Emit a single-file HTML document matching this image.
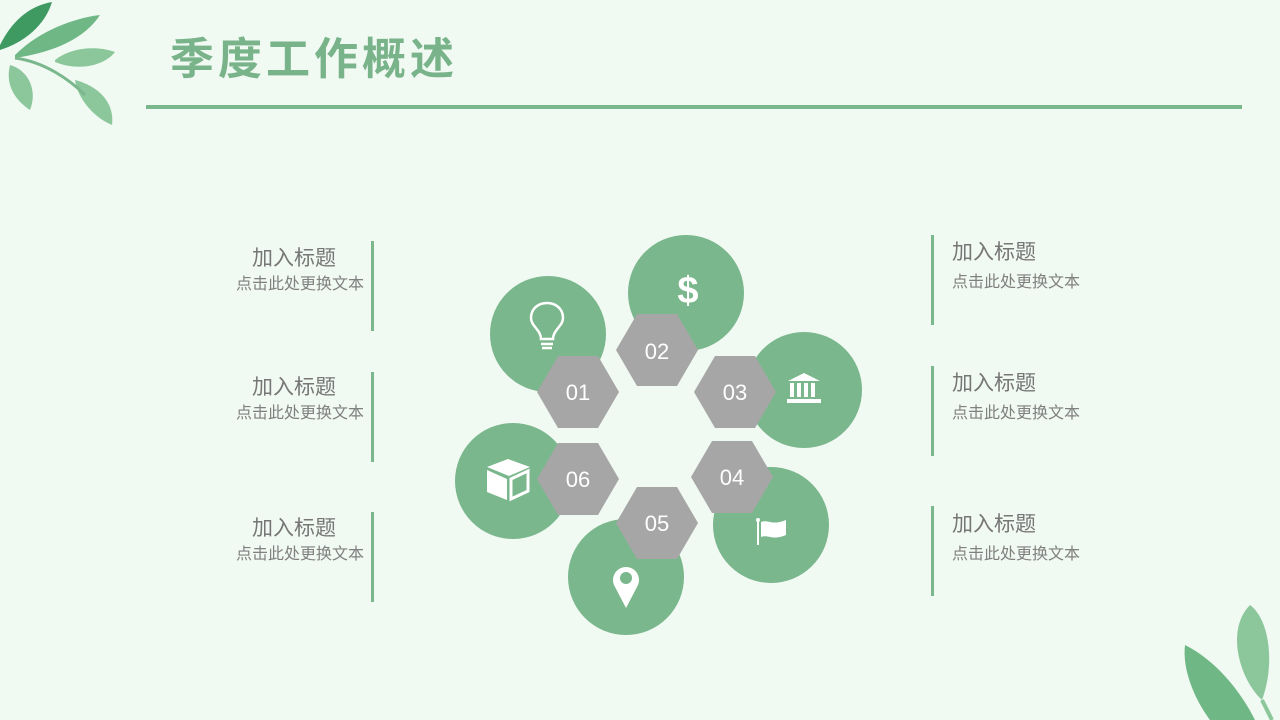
<!DOCTYPE html>
<html><head><meta charset="utf-8"><style>
html,body{margin:0;padding:0}
body{width:1280px;height:720px;background:#f0f9f2;overflow:hidden;position:relative;font-family:"Liberation Sans","Noto Sans CJK SC",sans-serif}
.t{position:absolute;font-size:21px;color:#767676;line-height:1}
.s{position:absolute;font-size:16px;color:#808080;line-height:1}
.bar{position:absolute;width:3px;height:90px;background:#7ab78c}
.l{text-align:right}
</style></head><body>
<svg width="1280" height="720" style="position:absolute;left:0;top:0">
<g>
<path d="M0 45 C15 15 35 5 52 2 C45 25 25 42 0 50Z" fill="#3f9a62"/>
<path d="M15 55 C40 30 75 18 100 15 C85 38 55 52 15 58Z" fill="#6fb885"/>
<path d="M55 60 C70 48 95 45 115 52 C105 65 80 72 55 62Z" fill="#8cc79c"/>
<path d="M10 65 C28 70 38 90 30 110 C15 100 5 85 10 65Z" fill="#8cc79c"/>
<path d="M75 80 C95 85 115 100 112 125 C95 118 78 100 75 80Z" fill="#8cc79c"/>
<path d="M15 58 C45 62 70 80 85 95" stroke="#7ab78c" stroke-width="3" fill="none"/>
</g>
<path d="M1250 605 C1270 620 1275 665 1262 700 C1240 680 1225 630 1250 605Z" fill="#8cc79c"/>
<path d="M1185 645 C1215 660 1240 690 1255 720 L1210 720 C1195 700 1182 670 1185 645Z" fill="#6fb885"/>
<path d="M1262 700 L1272 720" stroke="#8cc79c" stroke-width="4"/>
<rect x="146" y="105" width="1096" height="4" fill="#7ab78c"/>
<g fill="#7ab78c">
<circle cx="686" cy="293" r="58"/>
<circle cx="548" cy="334" r="58"/>
<circle cx="804" cy="390" r="58"/>
<circle cx="513" cy="481" r="58"/>
<circle cx="771" cy="525" r="58"/>
<circle cx="626" cy="577" r="58"/>
</g>
<g fill="#a6a6a6">
<polygon points="616,350 637,314 677,314 698,350 677,386 637,386"/>
<polygon points="537,392 558,356 598,356 619,392 598,428 558,428"/>
<polygon points="694,392 715,356 755,356 776,392 755,428 715,428"/>
<polygon points="537,479 558,443 598,443 619,479 598,515 558,515"/>
<polygon points="691,477 712,441 752,441 773,477 752,513 712,513"/>
<polygon points="616,523 637,487 677,487 698,523 677,559 637,559"/>
</g>
<g fill="#fff" font-family="Liberation Sans,sans-serif" font-size="22" text-anchor="middle">
<text x="657" y="359">02</text>
<text x="578" y="400">01</text>
<text x="735" y="400">03</text>
<text x="578" y="487">06</text>
<text x="732" y="485">04</text>
<text x="657" y="531">05</text>
<text x="688" y="303" font-size="38" font-weight="bold">$</text>
</g>
<g stroke="#fff" stroke-width="2.5" fill="none">
<path d="M541 339 C541 330 531 326 531 318 C531 308 539 303 547 303 C555 303 563 308 563 318 C563 326 553 330 553 339Z"/>
<path d="M541 344 H553 M542 348 H552"/>
</g>
<g fill="#fff">
<polygon points="788,381 804,373 820,381"/>
<rect x="790" y="383" width="4" height="14"/><rect x="797" y="383" width="4" height="14"/><rect x="804" y="383" width="4" height="14"/><rect x="811" y="383" width="4" height="14"/>
<rect x="787" y="399" width="34" height="4"/>
</g>
<g fill="#fff"><polygon points="487,467 508,459 530,467 509,476"/><polygon points="487,470 507,479 507,500 487,492"/></g>
<polygon points="511,479 528,471 528,491 511,499" fill="none" stroke="#fff" stroke-width="3"/>
<rect x="757" y="520" width="2" height="25" fill="#fff"/><circle cx="758" cy="520" r="2" fill="#fff"/>
<path d="M761 522 C768 519 772 526 786 520 V535 C772 541 768 534 761 537Z" fill="#fff"/>
<path d="M626 608 L614 585 A13 13 0 1 1 638 585Z" fill="#fff"/><circle cx="626" cy="578" r="6" fill="#7ab78c"/>
</svg>
<div style="position:absolute;left:170px;top:38px;font-size:44px;font-weight:bold;color:#79b38a;letter-spacing:4px;line-height:1">季度工作概述</div>

<div class="t l" style="right:944px;top:248px">加入标题</div>
<div class="s l" style="right:916px;top:277px">点击此处更换文本</div>
<div class="bar" style="left:371px;top:241px"></div>
<div class="t l" style="right:944px;top:377px">加入标题</div>
<div class="s l" style="right:916px;top:406px">点击此处更换文本</div>
<div class="bar" style="left:371px;top:372px"></div>
<div class="t l" style="right:944px;top:518px">加入标题</div>
<div class="s l" style="right:916px;top:547px">点击此处更换文本</div>
<div class="bar" style="left:371px;top:512px"></div>

<div class="t" style="left:952px;top:242px">加入标题</div>
<div class="s" style="left:952px;top:275px">点击此处更换文本</div>
<div class="bar" style="left:931px;top:235px"></div>
<div class="t" style="left:952px;top:373px">加入标题</div>
<div class="s" style="left:952px;top:406px">点击此处更换文本</div>
<div class="bar" style="left:931px;top:366px"></div>
<div class="t" style="left:952px;top:514px">加入标题</div>
<div class="s" style="left:952px;top:547px">点击此处更换文本</div>
<div class="bar" style="left:931px;top:506px"></div>
</body></html>
